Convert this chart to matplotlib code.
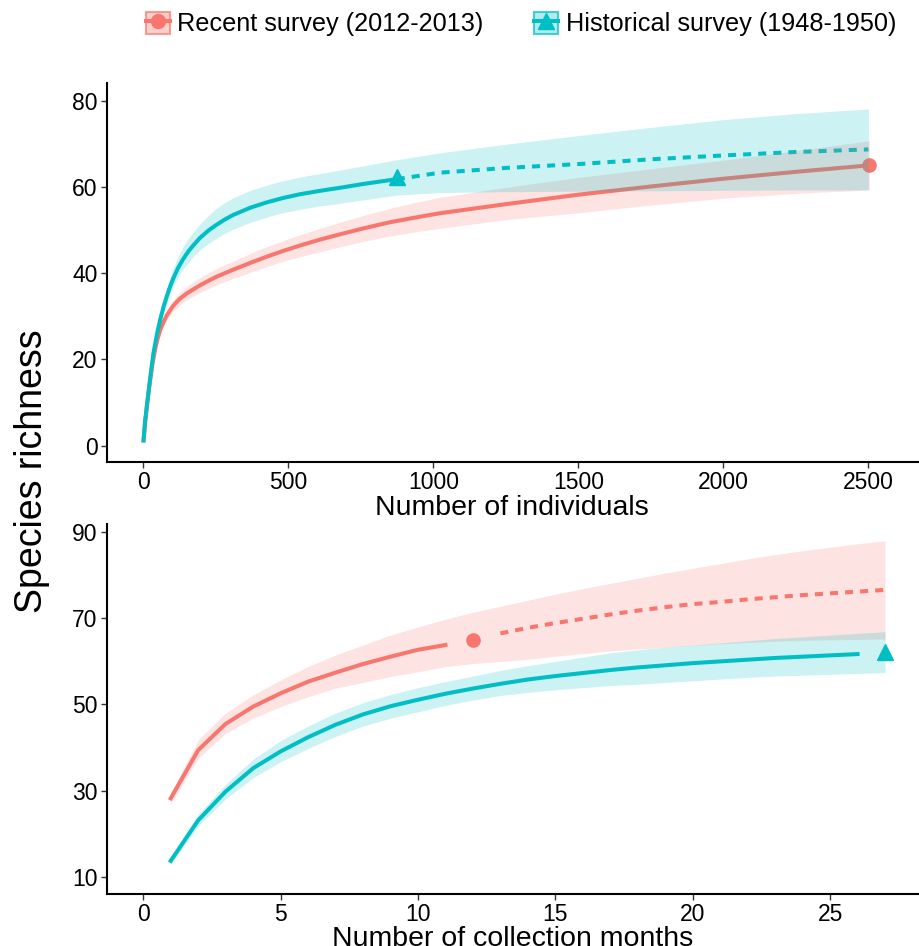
import matplotlib
matplotlib.use('Agg')
import matplotlib.pyplot as plt
from matplotlib.patches import Patch
from matplotlib.lines import Line2D
from matplotlib.legend_handler import HandlerTuple

plt.rcParams['font.family'] = ['Liberation Sans', 'DejaVu Sans']

RED = '#F8766D'
TEAL = '#00BFC4'

# --- rarefaction by individuals: recent survey (interpolated up to the observed sample)
rec_ind_x = [1, 8, 16, 24, 31, 40, 48, 58, 70, 81, 103, 125, 150, 196, 250, 310, 370, 425, 480,
             540, 610, 678, 760, 850, 930, 1023, 1250, 1500, 1750, 2000, 2250, 2503]
rec_ind_y = [1.2, 6.2, 11.0, 15.2, 18.7, 22.0, 24.4, 26.8, 28.7, 30.2, 32.4, 34.0, 35.3, 37.2, 39.1,
             40.8, 42.4, 43.8, 45.1, 46.4, 47.8, 49.0, 50.4, 51.8, 52.8, 53.9, 56.0, 58.2, 60.1, 61.9,
             63.5, 65.0]
rec_ind_lo = [1.2, 6.0, 10.6, 14.7, 18.1, 21.3, 23.6, 25.9, 27.7, 29.1, 31.2, 32.6, 33.8, 35.5, 37.2,
              38.8, 40.2, 41.5, 42.7, 43.8, 45.0, 46.1, 47.4, 48.6, 49.5, 50.4, 52.4, 54.0, 55.8, 57.4,
              58.5, 59.3]
rec_ind_hi = [1.2, 6.4, 11.4, 15.7, 19.3, 22.7, 25.2, 27.8, 29.8, 31.4, 33.7, 35.4, 36.9, 39.0, 41.0,
              42.8, 44.6, 46.1, 47.5, 48.9, 50.4, 51.8, 53.4, 55.0, 56.3, 57.6, 59.9, 62.2, 64.2, 66.2,
              68.4, 70.7]
rec_ind_obs = (2503, 65.0)

# historical survey: interpolated part then extrapolated part
hist_ind_x = [1, 6, 12, 23, 35, 48, 58, 70, 81, 92, 103, 120, 138, 155, 172, 196, 225, 250, 280,
              310, 370, 425, 480, 540, 610, 678, 760, 874]
hist_ind_y = [1.2, 5.5, 9.0, 15.2, 21.4, 26.1, 29.1, 32.2, 34.6, 36.8, 38.7, 41.2, 43.3, 45.0, 46.4,
              48.2, 49.9, 51.1, 52.4, 53.5, 55.2, 56.4, 57.4, 58.3, 59.1, 59.8, 60.7, 61.8]
hist_ind_lo = [1.2, 5.3, 8.6, 14.6, 20.6, 25.1, 28.0, 30.9, 33.2, 35.2, 36.9, 39.1, 41.0, 42.5, 43.8,
               45.4, 46.9, 48.0, 49.2, 50.2, 51.8, 53.0, 54.0, 54.8, 55.6, 56.2, 57.0, 58.1]
hist_ind_hi = [1.2, 5.7, 9.4, 15.9, 22.3, 27.2, 30.4, 33.7, 36.3, 38.8, 41.0, 43.9, 46.2, 48.0, 49.5,
               51.4, 53.4, 54.9, 56.3, 57.5, 59.2, 60.4, 61.4, 62.3, 63.1, 63.9, 64.9, 66.3]
hist_ext_x = [874, 1023, 1250, 1500, 1750, 2000, 2250, 2500]
hist_ext_y = [61.8, 63.3, 64.4, 65.3, 66.4, 67.3, 68.1, 68.7]
hist_ext_lo = [58.1, 58.7, 58.9, 59.0, 59.1, 59.2, 59.3, 59.3]
hist_ext_hi = [66.3, 67.9, 69.9, 71.9, 73.8, 75.6, 77.0, 78.1]
hist_ind_obs = (874, 62.2)

# --- rarefaction by collection months
months = list(range(1, 28))
rec_mon_y = [28.2, 39.4, 45.5, 49.5, 52.6, 55.3, 57.4, 59.4, 61.1, 62.7, 63.8]
rec_mon_obs = (12, 65.0)
rec_mon_ext = [66.5, 67.8, 68.9, 69.9, 70.9, 71.8, 72.6, 73.3, 73.8, 74.4, 74.9, 75.4, 75.8, 76.2, 76.6]
rec_mon_lo = [27.0, 37.5, 43.3, 46.8, 49.5, 51.8, 53.8, 55.1, 56.5, 57.6, 58.8, 59.5, 60.0, 60.5,
              61.2, 61.8, 62.4, 62.9, 63.3, 63.7, 64.1, 64.4, 64.7, 64.9, 65.0, 65.1, 65.2]
rec_mon_hi = [29.3, 41.8, 48.0, 52.2, 55.7, 58.8, 61.5, 63.8, 66.1, 68.0, 69.8, 71.4, 72.8, 74.2,
              75.6, 76.9, 78.1, 79.3, 80.5, 81.6, 82.7, 83.8, 84.8, 85.7, 86.5, 87.3, 88.0]

hist_mon_y = [13.7, 23.1, 29.8, 35.2, 39.1, 42.4, 45.3, 47.7, 49.6, 51.1, 52.5, 53.7, 54.8,
              55.8, 56.6, 57.3, 58.0, 58.6, 59.1, 59.6, 60.0, 60.4, 60.8, 61.1, 61.4, 61.7]
hist_mon_obs = (27, 62.2)
hist_mon_lo = [13.0, 21.8, 28.1, 33.0, 36.7, 39.8, 42.6, 45.0, 46.8, 48.3, 49.8, 51.0, 52.1, 52.8,
               53.4, 53.9, 54.4, 54.7, 55.1, 55.5, 55.9, 56.3, 56.6, 56.8, 57.0, 57.2, 57.4]
hist_mon_hi = [14.5, 24.5, 31.5, 37.3, 41.6, 45.0, 48.0, 50.4, 52.3, 53.9, 55.3, 56.6, 57.9, 59.0,
               60.0, 61.0, 62.0, 62.7, 63.3, 63.8, 64.3, 64.8, 65.3, 65.7, 66.1, 66.5, 66.9]

LW = 2.9
DASH = (2, 1.75)

fig = plt.figure(figsize=(9.2, 9.46), dpi=100)
ax1 = fig.add_axes([106.7 / 920, 1 - 462 / 946, (918 - 106.7) / 920, (462 - 83) / 946])
ax2 = fig.add_axes([106.7 / 920, 1 - 894 / 946, (918 - 106.7) / 920, (894 - 524) / 946])


def style(ax):
    for s in ['top', 'right']:
        ax.spines[s].set_visible(False)
    for s in ['left', 'bottom']:
        ax.spines[s].set_linewidth(1.5)
    ax.tick_params(direction='out', length=4.5, width=1.0, labelsize=16.5, pad=2, colors='#333333',
                   labelcolor='black')


# top panel
ax1.plot(rec_ind_x, rec_ind_y, color=RED, lw=LW, zorder=2)
ax1.plot(*rec_ind_obs, 'o', color=RED, ms=9.5, zorder=2)
ax1.plot(hist_ind_x, hist_ind_y, color=TEAL, lw=LW, zorder=2)
ax1.plot(hist_ext_x, hist_ext_y, color=TEAL, lw=LW, dashes=DASH, zorder=2)
ax1.plot(*hist_ind_obs, '^', color=TEAL, ms=12, zorder=2)
ax1.fill_between(rec_ind_x, rec_ind_lo, rec_ind_hi, color=RED, alpha=0.2, lw=0, zorder=3)
ax1.fill_between(hist_ind_x, hist_ind_lo, hist_ind_hi, color=TEAL, alpha=0.2, lw=0, zorder=3)
ax1.fill_between(hist_ext_x, hist_ext_lo, hist_ext_hi, color=TEAL, alpha=0.2, lw=0, zorder=3)
ax1.set_xlim(-126, 2671)
ax1.set_ylim(-3.8, 84.1)
ax1.set_xticks([0, 500, 1000, 1500, 2000, 2500])
ax1.set_yticks([0, 20, 40, 60, 80])
ax1.set_xlabel('Number of individuals', fontsize=20.5, labelpad=1)
style(ax1)

# bottom panel
ax2.plot(months[:11], rec_mon_y, color=RED, lw=LW, zorder=2)
ax2.plot(*rec_mon_obs, 'o', color=RED, ms=9.5, zorder=2)
ax2.plot(months[12:], rec_mon_ext, color=RED, lw=LW, dashes=DASH, zorder=2)
ax2.plot(months[:26], hist_mon_y, color=TEAL, lw=LW, zorder=2)
ax2.plot(*hist_mon_obs, '^', color=TEAL, ms=12, zorder=2)
ax2.fill_between(months, rec_mon_lo, rec_mon_hi, color=RED, alpha=0.2, lw=0, zorder=3)
ax2.fill_between(months, hist_mon_lo, hist_mon_hi, color=TEAL, alpha=0.2, lw=0, zorder=3)
ax2.set_xlim(-1.33, 28.2)
ax2.set_ylim(6.0, 91.9)
ax2.set_xticks([0, 5, 10, 15, 20, 25])
ax2.set_yticks([10, 30, 50, 70, 90])
ax2.set_xlabel('Number of collection months', fontsize=20.5, labelpad=0)
style(ax2)

fig.text(32 / 920, 1 - 471 / 946, 'Species richness', rotation=90, fontsize=27,
         ha='center', va='center')

# legend
h_rec = (Patch(facecolor=(0.973, 0.463, 0.427, 0.35), edgecolor=(0.973, 0.463, 0.427, 0.7), lw=1.5),
         Line2D([], [], color=RED, lw=LW, marker='o', ms=10))
h_hist = (Patch(facecolor=(0.0, 0.749, 0.769, 0.3), edgecolor=(0.0, 0.749, 0.769, 0.7), lw=1.5),
          Line2D([], [], color=TEAL, lw=LW, marker='^', ms=11))
fig.legend([h_rec, h_hist], ['Recent survey (2012-2013)', 'Historical survey (1948-1950)'],
           handler_map={tuple: HandlerTuple(ndivide=1)},
           loc='center', bbox_to_anchor=(521 / 920, 1 - 24 / 946), ncol=2, frameon=False,
           fontsize=18.2, handlelength=0.95, handleheight=0.95, handletextpad=0.3,
           columnspacing=2.0, borderpad=0)

fig.savefig('out.png', dpi=100)
